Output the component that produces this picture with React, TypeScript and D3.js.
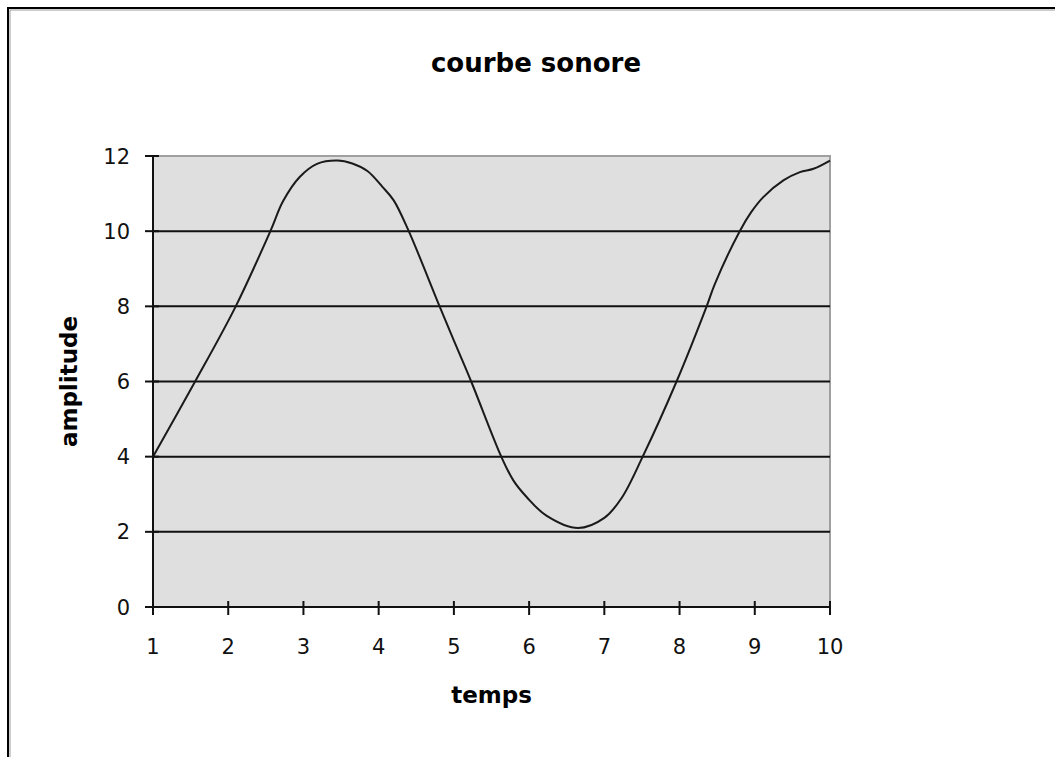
import React from "react";
import { scaleLinear, line, curveCatmullRom, range } from "d3";

const width = 1055;
const height = 757;
const plotLeft = 153;
const plotRight = 830;
const plotTop = 156;
const plotBottom = 607;

// valeurs
const temps = [
  1.0, 1.56, 2.1, 2.56, 2.73, 2.95, 3.18, 3.45, 3.65, 3.85, 4.05, 4.2, 4.4, 4.81,
  5.04, 5.23, 5.63, 5.79, 5.97, 6.23, 6.65, 7.0, 7.23, 7.51, 7.96, 8.36, 8.47,
  8.8, 8.95, 9.11, 9.38, 9.6, 9.78, 10.0,
];
const amplitude = [
  4.0, 6.0, 8.0, 10.0, 10.8, 11.44, 11.79, 11.88, 11.8, 11.6, 11.18, 10.82,
  10.0, 8.0, 6.9, 6.0, 4.0, 3.37, 2.92, 2.43, 2.1, 2.37, 2.9, 4.0, 6.0, 8.0,
  8.6, 10.0, 10.5, 10.9, 11.35, 11.57, 11.66, 11.88,
];
const xTicks = range(1, 11);
const yTicks = [0, 2, 4, 6, 8, 10, 12];
const gridValues = [2, 4, 6, 8, 10];

const x = scaleLinear().domain([1, 10]).range([plotLeft, plotRight]);
const y = scaleLinear().domain([0, 12]).range([plotBottom, plotTop]);

const curve = line<number>()
  .x((d, i) => x(temps[i]))
  .y((d) => y(d))
  .curve(curveCatmullRom.alpha(0.5));

const font = "'DejaVu Sans', sans-serif";

const App = () => (
  <svg
    width={width}
    height={height}
    style={{ position: "absolute", left: 0, top: 0, background: "#fff" }}
  >
    <rect x={8} y={8} width={1200} height={900} fill="none" stroke="#000" strokeWidth={2} />
    <rect x={10} y={10} width={1200} height={900} fill="none" stroke="#999" strokeWidth={1} />

    <text
      x={536}
      y={72}
      textAnchor="middle"
      fontFamily={font}
      fontWeight="bold"
      fontSize={26}
    >
      courbe sonore
    </text>

    <rect
      x={plotLeft}
      y={plotTop}
      width={plotRight - plotLeft}
      height={plotBottom - plotTop}
      fill="#dfdfdf"
      stroke="#a0a0a0"
      strokeWidth={2}
    />

    {gridValues.map((d) => (
      <line
        key={d}
        x1={plotLeft}
        x2={plotRight}
        y1={y(d)}
        y2={y(d)}
        stroke="#111"
        strokeWidth={2}
      />
    ))}

    <path d={curve(amplitude) || ""} fill="none" stroke="#1a1a1a" strokeWidth={2} />

    <line x1={plotLeft} x2={plotLeft} y1={plotTop} y2={plotBottom} stroke="#111" strokeWidth={2} />
    <line x1={plotLeft} x2={plotRight} y1={plotBottom} y2={plotBottom} stroke="#111" strokeWidth={2} />

    {yTicks.map((d) => (
      <g key={d}>
        <line x1={145} x2={159} y1={y(d)} y2={y(d)} stroke="#111" strokeWidth={2} />
        <text
          x={130}
          y={y(d)}
          dy="0.36em"
          textAnchor="end"
          fontFamily={font}
          fontSize={21}
          fill="#111"
        >
          {d}
        </text>
      </g>
    ))}

    {xTicks.map((d) => (
      <g key={d}>
        <line x1={x(d)} x2={x(d)} y1={601} y2={615} stroke="#111" strokeWidth={2} />
        <text
          x={x(d)}
          y={654}
          textAnchor="middle"
          fontFamily={font}
          fontSize={21}
          fill="#111"
        >
          {d}
        </text>
      </g>
    ))}

    <text
      x={(plotLeft + plotRight) / 2}
      y={703}
      textAnchor="middle"
      fontFamily={font}
      fontWeight="bold"
      fontSize={23}
    >
      temps
    </text>

    <text
      transform={`translate(77, ${(plotTop + plotBottom) / 2}) rotate(-90)`}
      textAnchor="middle"
      fontFamily={font}
      fontWeight="bold"
      fontSize={23}
    >
      amplitude
    </text>
  </svg>
);

export default App;
